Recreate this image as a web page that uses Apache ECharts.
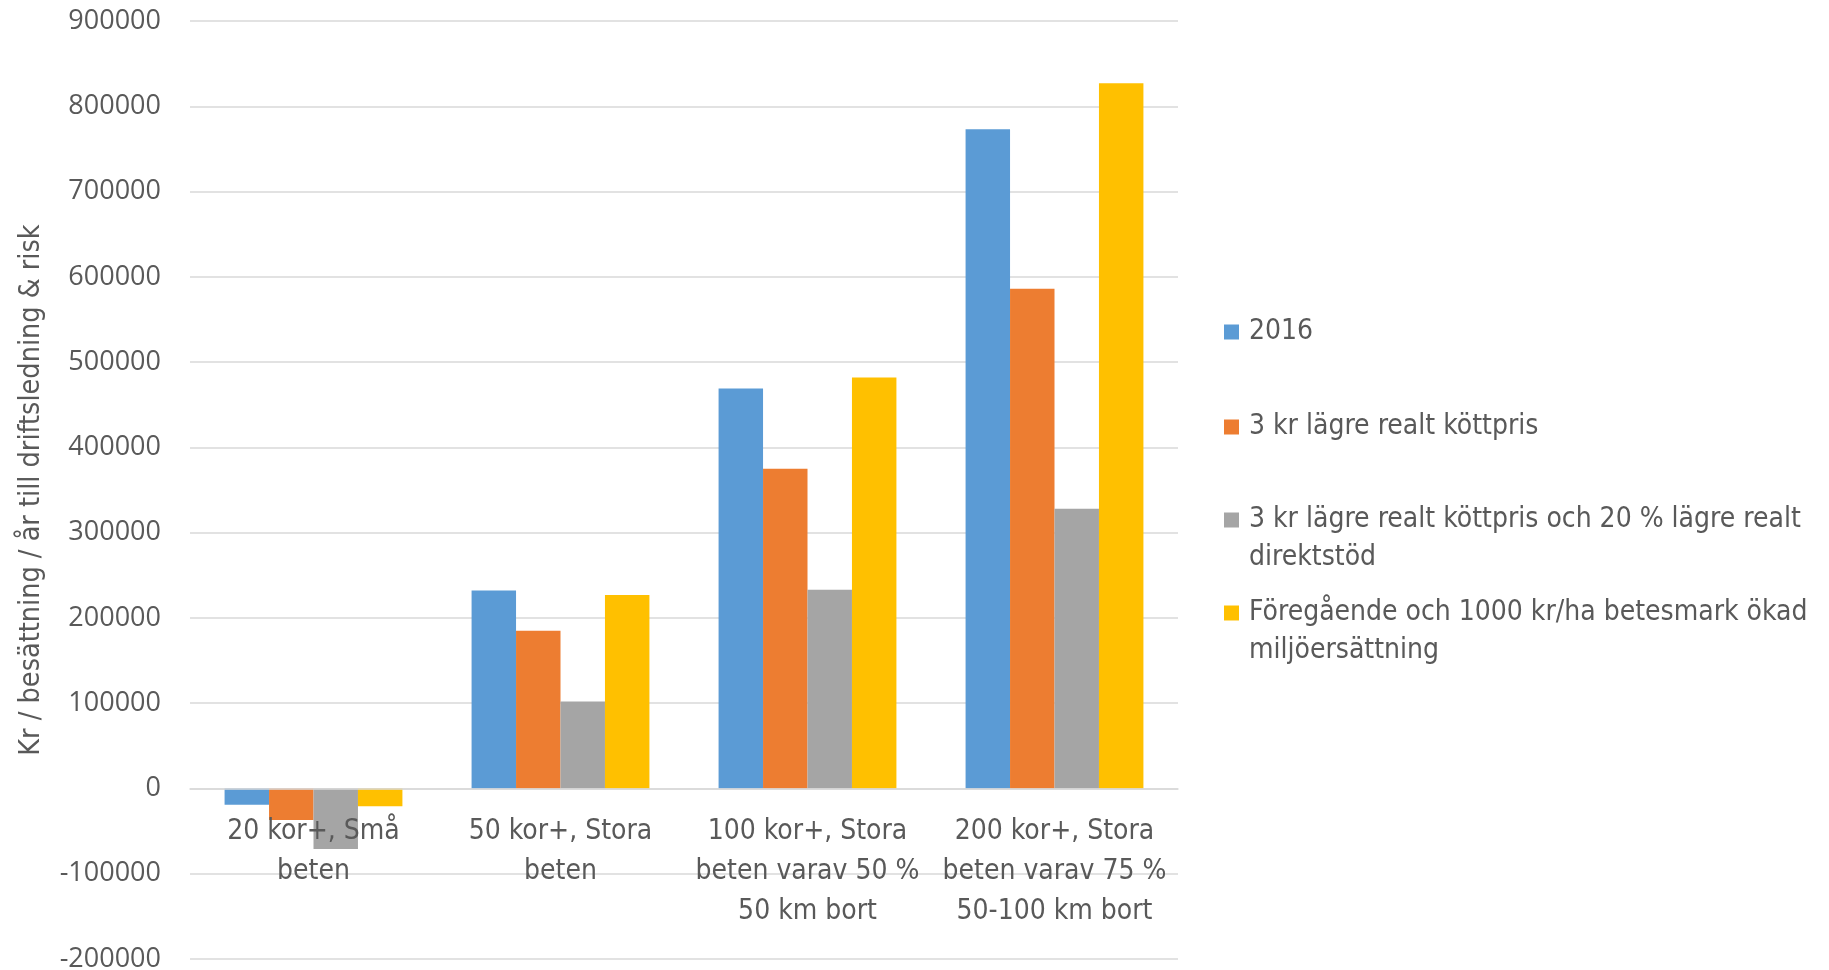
<!DOCTYPE html>
<html>
<head>
<meta charset="utf-8">
<script src="https://cdn.jsdelivr.net/npm/echarts@6/dist/echarts.min.js"></script>
<style>
html,body{margin:0;padding:0;background:#fff;}
#c{width:1829px;height:970px;}
</style>
</head>
<body>
<div id="c"></div>
<script>
const categories = [
  "20 kor+, Små\nbeten",
  "50 kor+, Stora\nbeten",
  "100 kor+, Stora\nbeten varav 50 %\n50 km bort",
  "200 kor+, Stora\nbeten varav 75 %\n50-100 km bort"
];
const seriesNames = [
  "2016",
  "3 kr lägre realt köttpris",
  "3 kr lägre realt köttpris och 20 % lägre realt direktstöd",
  "Föregående och 1000 kr/ha betesmark ökad miljöersättning"
];
const legendLines = [
  "2016",
  "3 kr lägre realt köttpris",
  "3 kr lägre realt köttpris och 20 % lägre realt\ndirektstöd",
  "Föregående och 1000 kr/ha betesmark ökad\nmiljöersättning"
];
const values2016 = [-19000, 232000, 469000, 773000];
const valuesLowerMeat = [-37000, 185000, 375000, 586000];
const valuesLowerMeatSupport = [-71000, 102000, 233000, 328000];
const valuesPrevPlusEnv = [-21000, 227000, 482000, 827000];
const colors = ["#5B9BD5", "#ED7D31", "#A5A5A5", "#FFC000"];
const yMin = -200000, yMax = 900000, yStep = 100000;
const yAxisTitle = "Kr / besättning / år till driftsledning & risk";

const allValues = [values2016, valuesLowerMeat, valuesLowerMeatSupport, valuesPrevPlusEnv];
const textFont = '"DejaVu Sans Condensed", "Open Sans", sans-serif';
const textColor = "#595959";

// layout constants
const W = 1829, H = 970;
const gridTop = 21, gridBottom = 11, gridLeft = 190, gridRight = 651;
const plotH = H - gridTop - gridBottom;
const zeroOffset = -plotH * (0 - yMin) / (yMax - yMin);

const legendMarkerY = [332, 427, 520, 613];
const lh = 38;
const legends = seriesNames.map((n, i) => {
  const twoLine = legendLines[i].indexOf("\n") >= 0;
  return {
    data: [n],
    orient: "vertical",
    left: 1224,
    top: legendMarkerY[i] - (twoLine ? lh * 1.5 : lh / 2),
    padding: 0,
    itemWidth: 15,
    itemHeight: 15,
    icon: "rect",
    selectedMode: false,
    formatter: () => (twoLine ? "\n" : "") + legendLines[i],
    textStyle: {
      fontFamily: textFont,
      fontSize: 28,
      color: textColor,
      lineHeight: lh,
      padding: [0, 0, 0, 5]
    }
  };
});

const chart = echarts.init(document.getElementById("c"), null, {renderer: "canvas"});
chart.setOption({
  animation: false,
  backgroundColor: "#ffffff",
  grid: {left: gridLeft, right: gridRight, top: gridTop, bottom: gridBottom, containLabel: false, outerBoundsMode: "none"},
  legend: legends,
  xAxis: {
    type: "category",
    data: categories,
    position: "bottom",
    offset: zeroOffset,
    z: 5,
    axisLine: {show: true, onZero: false, lineStyle: {color: "#d9d9d9", width: 1.5}},
    axisTick: {show: false},
    axisLabel: {
      fontFamily: textFont,
      fontSize: 28,
      color: textColor,
      lineHeight: 40,
      margin: 23,
      interval: 0
    }
  },
  yAxis: {
    type: "value",
    min: yMin,
    max: yMax,
    interval: yStep,
    name: yAxisTitle,
    nameLocation: "middle",
    nameGap: 144,
    nameTextStyle: {fontFamily: textFont, fontSize: 28.5, color: textColor},
    axisLine: {show: false},
    axisTick: {show: false},
    splitLine: {lineStyle: {color: "#d9d9d9", width: 1.5}},
    axisLabel: {
      fontFamily: '"Open Sans", sans-serif',
      fontSize: 27,
      color: textColor,
      margin: 29,
      formatter: v => String(v)
    }
  },
  series: seriesNames.map((n, i) => ({
    name: n,
    type: "bar",
    data: allValues[i],
    barGap: "0%",
    barCategoryGap: "28%",
    itemStyle: {color: colors[i]}
  }))
});
</script>
</body>
</html>
